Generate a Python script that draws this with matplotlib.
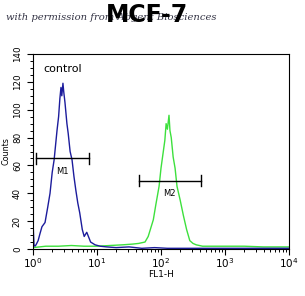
import numpy as np
import matplotlib
matplotlib.use("Agg")
import matplotlib.pyplot as plt
from matplotlib.ticker import MultipleLocator

# Blue (control) histogram: log10(FL1-H) and counts
blue_logx = [0.0, 0.005, 0.016, 0.03, 0.047, 0.08, 0.109, 0.14, 0.188, 0.23, 0.266, 0.3,
             0.33, 0.375, 0.4, 0.42, 0.437, 0.45, 0.468, 0.48, 0.5, 0.53, 0.55, 0.58,
             0.61, 0.64, 0.67, 0.7, 0.73, 0.75, 0.77, 0.8, 0.84, 0.9, 0.97, 1.05, 1.15,
             1.3, 1.5, 1.7, 1.9, 2.1, 2.4, 2.8, 3.2, 3.6, 4.0]
blue_counts = [12, 14, 3, 2, 3, 6, 11, 16, 19, 30, 40, 55, 64, 85, 95, 108, 116, 110, 119,
               113, 105, 90, 83, 70, 64, 52, 42, 33, 26, 20, 14, 9, 12, 5, 3, 2, 1.5,
               1, 1.5, 0.5, 1, 0.5, 0.5, 0.5, 0.5, 0.5, 0.5]

# Green (sample) histogram
green_logx = [0.0, 0.2, 0.4, 0.6, 0.8, 1.0, 1.2, 1.4, 1.55, 1.65, 1.75, 1.8, 1.84, 1.88,
              1.92, 1.97, 2.0, 2.03, 2.06, 2.08, 2.1, 2.125, 2.14, 2.16, 2.19, 2.22,
              2.25, 2.3, 2.35, 2.4, 2.45, 2.5, 2.55, 2.65, 2.8, 3.0, 3.3, 3.6, 4.0]
green_counts = [1, 2, 2, 2.5, 2, 2, 2.5, 3, 3.5, 4, 5, 9, 15, 21, 32, 45, 58, 68, 78, 90,
                86, 96, 85, 80, 66, 58, 45, 35, 24, 14, 6, 4, 3, 2, 2, 2, 2, 1.5, 1.5]

markers = {"M1": (1.1, 7.4, 65), "M2": (45, 420, 49)}

W, H = 305, 296
fig = plt.figure(figsize=(W / 100, H / 100), dpi=100)
ax = fig.add_axes([33 / W, 1 - 249 / H, (289 - 33) / W, (249 - 54) / H])

ax.plot(10 ** np.array(green_logx), green_counts, color="#3de03d", lw=1.0)
ax.plot(10 ** np.array(blue_logx), blue_counts, color="#1c1c9c", lw=1.0)

ax.set_xscale("log")
ax.set_xlim(1, 1e4)
ax.set_ylim(0, 140)
ax.set_yticks(range(0, 141, 20))
ax.yaxis.set_minor_locator(MultipleLocator(5))
ax.set_xticks([1, 10, 100, 1000, 10000])
ax.set_xticklabels([r"$10^0$", r"$10^1$", r"$10^2$", r"$10^3$", r"$10^4$"], fontsize=7.5)
for lbl in ax.get_yticklabels():
    lbl.set_rotation(90)
    lbl.set_va("center")
    lbl.set_fontsize(6.3)
ax.tick_params(axis="both", length=4, width=0.8, pad=4)
ax.tick_params(axis="x", pad=1.5)
ax.tick_params(axis="both", which="minor", length=2, width=0.7)

for name, (x0, x1, y) in markers.items():
    ax.plot([x0, x1], [y, y], color="black", lw=1.0)
    ax.plot([x0, x0], [y - 4, y + 4], color="black", lw=1.0)
    ax.plot([x1, x1], [y - 4, y + 4], color="black", lw=1.0)
    ax.text(np.sqrt(x0 * x1), y - 6, name, fontsize=6, ha="center", va="top")

ax.text(0.04, 0.925, "control", transform=ax.transAxes, fontsize=8, ha="left", va="center")
ax.set_ylabel("Counts", fontsize=5.8, labelpad=2)
ax.set_xlabel("FL1-H", fontsize=6.5, labelpad=0)

fig.text(6 / W, 1 - 17 / H, "with permission from Abgent Biosciences", fontsize=7.2,
         fontstyle="italic", family="DejaVu Serif", color="#333344",
         ha="left", va="center")
fig.text(147 / W, 1 - 15 / H, "MCF-7", fontsize=17, fontweight="bold",
         ha="center", va="center")

fig.savefig("out.png", dpi=100)
